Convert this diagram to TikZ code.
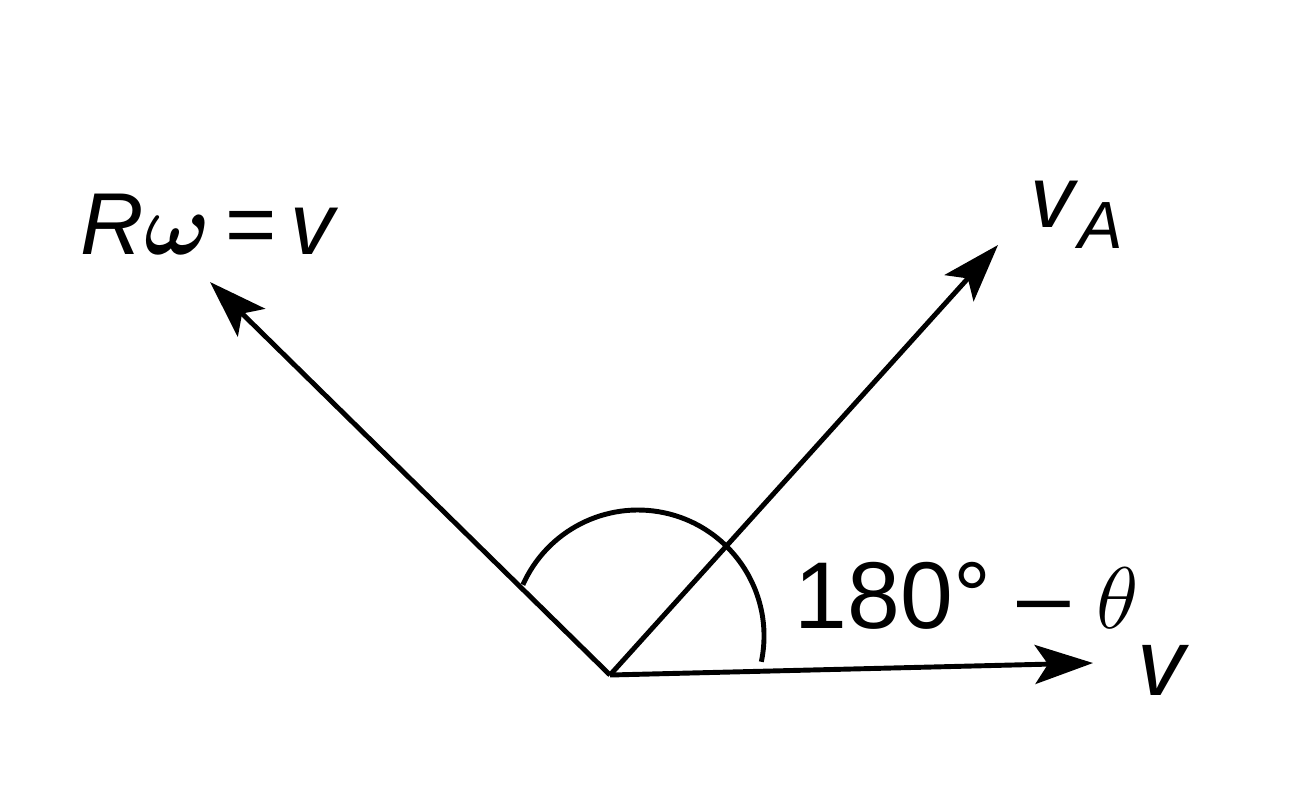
\documentclass[tikz,border=0pt]{standalone}
\usepackage{amsmath}
\usepackage{fontspec}
\setmainfont{Liberation Sans}
\usetikzlibrary{arrows.meta, positioning, calc}

\tikzset{
  vec/.style={line width=1.4pt, -{Stealth[length=5.8mm, width=3.9mm, inset=1.3mm]}},
  lbl/.style={inner sep=0pt, font=\fontsize{25}{28}\selectfont}
}

\begin{document}
\begin{tikzpicture}
            \useasboundingbox (0,0) rectangle (13.02,8.04);

            % Origin and tips
            \coordinate (O) at (6.10,1.29);
            \coordinate (tipV) at (10.93,1.41);
            \coordinate (tipA) at (9.98,5.59);
            \coordinate (tipR) at (2.10,5.22);

            % Vectors
            \draw[vec] (O) -- (tipV);
            \draw[vec] (O) -- (tipA);
            \draw[vec] (O) -- (tipR);

            % Angle
            \coordinate (C) at (6.38,1.68);
            \draw[line width=1.4pt] ($(C)+(-11.8:1.26)$) arc (-11.8:156:1.26);

            % Labels
            \node[lbl] (lR) at (2.10,5.80) {\textit{R}$\boldsymbol{\omega}$\,=\,\textit{v}};
            \node[lbl, anchor=south west] (lA) at (10.30,5.55) {\textit{v}\raisebox{-0.45ex}{\fontsize{19}{22}\selectfont\textit{A}}};
            \node[lbl, font=\fontsize{27}{30}\selectfont] (lT) at (9.67,2.08) {180\textdegree\ -- $\theta$};
            \node[lbl, font=\fontsize{27}{30}\selectfont] (lV) at (11.63,1.34) {\textit{v}};
        \end{tikzpicture}
\end{document}
